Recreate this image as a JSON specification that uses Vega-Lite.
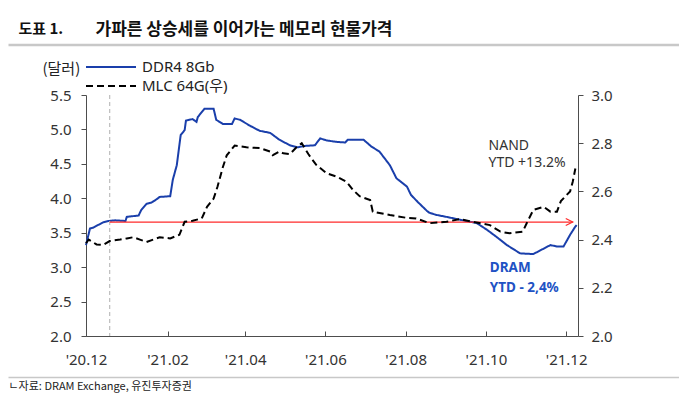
{
  "$schema": "https://vega.github.io/schema/vega-lite/v6.json",
  "width": 492,
  "height": 241,
  "autosize": {"type": "none"},
  "padding": {"left": 86, "top": 95, "right": 101, "bottom": 70},
  "background": "white",
  "config": {
    "view": {"stroke": null},
    "font": "Noto Sans",
    "axis": {
      "grid": false,
      "labelFont": "Noto Sans",
      "labelFontSize": 15,
      "labelColor": "#333333",
      "labelOverlap": false,
      "domainColor": "#4d4d4d",
      "tickColor": "#4d4d4d",
      "titleFont": "Noto Sans CJK KR",
      "titleFontWeight": "normal",
      "titleColor": "#222222"
    }
  },
  "datasets": {
    "prices": [
      {"date": "2020-12-01", "series": "DDR4 8Gb", "price": 3.32},
      {"date": "2020-12-04", "series": "DDR4 8Gb", "price": 3.56},
      {"date": "2020-12-06", "series": "DDR4 8Gb", "price": 3.57},
      {"date": "2020-12-10", "series": "DDR4 8Gb", "price": 3.61},
      {"date": "2020-12-14", "series": "DDR4 8Gb", "price": 3.65},
      {"date": "2020-12-18", "series": "DDR4 8Gb", "price": 3.67},
      {"date": "2020-12-23", "series": "DDR4 8Gb", "price": 3.68},
      {"date": "2020-12-31", "series": "DDR4 8Gb", "price": 3.67},
      {"date": "2021-01-01", "series": "DDR4 8Gb", "price": 3.73},
      {"date": "2021-01-10", "series": "DDR4 8Gb", "price": 3.75},
      {"date": "2021-01-12", "series": "DDR4 8Gb", "price": 3.83},
      {"date": "2021-01-16", "series": "DDR4 8Gb", "price": 3.92},
      {"date": "2021-01-20", "series": "DDR4 8Gb", "price": 3.94},
      {"date": "2021-01-24", "series": "DDR4 8Gb", "price": 3.99},
      {"date": "2021-01-26", "series": "DDR4 8Gb", "price": 4.02},
      {"date": "2021-02-03", "series": "DDR4 8Gb", "price": 4.03},
      {"date": "2021-02-05", "series": "DDR4 8Gb", "price": 4.27},
      {"date": "2021-02-08", "series": "DDR4 8Gb", "price": 4.48},
      {"date": "2021-02-11", "series": "DDR4 8Gb", "price": 4.92},
      {"date": "2021-02-14", "series": "DDR4 8Gb", "price": 4.99},
      {"date": "2021-02-15", "series": "DDR4 8Gb", "price": 5.13},
      {"date": "2021-02-20", "series": "DDR4 8Gb", "price": 5.15},
      {"date": "2021-02-23", "series": "DDR4 8Gb", "price": 5.11},
      {"date": "2021-02-24", "series": "DDR4 8Gb", "price": 5.18},
      {"date": "2021-03-01", "series": "DDR4 8Gb", "price": 5.30},
      {"date": "2021-03-08", "series": "DDR4 8Gb", "price": 5.30},
      {"date": "2021-03-10", "series": "DDR4 8Gb", "price": 5.14},
      {"date": "2021-03-15", "series": "DDR4 8Gb", "price": 5.08},
      {"date": "2021-03-22", "series": "DDR4 8Gb", "price": 5.08},
      {"date": "2021-03-24", "series": "DDR4 8Gb", "price": 5.16},
      {"date": "2021-03-28", "series": "DDR4 8Gb", "price": 5.14},
      {"date": "2021-04-05", "series": "DDR4 8Gb", "price": 5.05},
      {"date": "2021-04-12", "series": "DDR4 8Gb", "price": 4.98},
      {"date": "2021-04-20", "series": "DDR4 8Gb", "price": 4.95},
      {"date": "2021-04-27", "series": "DDR4 8Gb", "price": 4.85},
      {"date": "2021-04-30", "series": "DDR4 8Gb", "price": 4.82},
      {"date": "2021-05-05", "series": "DDR4 8Gb", "price": 4.77},
      {"date": "2021-05-11", "series": "DDR4 8Gb", "price": 4.74},
      {"date": "2021-05-16", "series": "DDR4 8Gb", "price": 4.76},
      {"date": "2021-05-24", "series": "DDR4 8Gb", "price": 4.77},
      {"date": "2021-05-28", "series": "DDR4 8Gb", "price": 4.87},
      {"date": "2021-06-02", "series": "DDR4 8Gb", "price": 4.84},
      {"date": "2021-06-09", "series": "DDR4 8Gb", "price": 4.82},
      {"date": "2021-06-16", "series": "DDR4 8Gb", "price": 4.81},
      {"date": "2021-06-18", "series": "DDR4 8Gb", "price": 4.85},
      {"date": "2021-06-30", "series": "DDR4 8Gb", "price": 4.85},
      {"date": "2021-07-06", "series": "DDR4 8Gb", "price": 4.75},
      {"date": "2021-07-12", "series": "DDR4 8Gb", "price": 4.68},
      {"date": "2021-07-20", "series": "DDR4 8Gb", "price": 4.48},
      {"date": "2021-07-25", "series": "DDR4 8Gb", "price": 4.29},
      {"date": "2021-08-02", "series": "DDR4 8Gb", "price": 4.17},
      {"date": "2021-08-05", "series": "DDR4 8Gb", "price": 4.05},
      {"date": "2021-08-10", "series": "DDR4 8Gb", "price": 3.95},
      {"date": "2021-08-17", "series": "DDR4 8Gb", "price": 3.82},
      {"date": "2021-08-19", "series": "DDR4 8Gb", "price": 3.79},
      {"date": "2021-08-24", "series": "DDR4 8Gb", "price": 3.76},
      {"date": "2021-09-01", "series": "DDR4 8Gb", "price": 3.73},
      {"date": "2021-09-11", "series": "DDR4 8Gb", "price": 3.69},
      {"date": "2021-09-24", "series": "DDR4 8Gb", "price": 3.64},
      {"date": "2021-10-02", "series": "DDR4 8Gb", "price": 3.54},
      {"date": "2021-10-09", "series": "DDR4 8Gb", "price": 3.44},
      {"date": "2021-10-17", "series": "DDR4 8Gb", "price": 3.32},
      {"date": "2021-10-27", "series": "DDR4 8Gb", "price": 3.20},
      {"date": "2021-11-06", "series": "DDR4 8Gb", "price": 3.19},
      {"date": "2021-11-14", "series": "DDR4 8Gb", "price": 3.27},
      {"date": "2021-11-19", "series": "DDR4 8Gb", "price": 3.32},
      {"date": "2021-11-24", "series": "DDR4 8Gb", "price": 3.30},
      {"date": "2021-11-29", "series": "DDR4 8Gb", "price": 3.30},
      {"date": "2021-12-04", "series": "DDR4 8Gb", "price": 3.47},
      {"date": "2021-12-08", "series": "DDR4 8Gb", "price": 3.59},
      {"date": "2021-12-09", "series": "DDR4 8Gb", "price": 3.61},
      {"date": "2020-12-01", "series": "MLC 64G(우)", "price": 2.385},
      {"date": "2020-12-03", "series": "MLC 64G(우)", "price": 2.40},
      {"date": "2020-12-09", "series": "MLC 64G(우)", "price": 2.38},
      {"date": "2020-12-14", "series": "MLC 64G(우)", "price": 2.378},
      {"date": "2020-12-19", "series": "MLC 64G(우)", "price": 2.394},
      {"date": "2020-12-27", "series": "MLC 64G(우)", "price": 2.40},
      {"date": "2021-01-01", "series": "MLC 64G(우)", "price": 2.405},
      {"date": "2021-01-06", "series": "MLC 64G(우)", "price": 2.41},
      {"date": "2021-01-11", "series": "MLC 64G(우)", "price": 2.40},
      {"date": "2021-01-16", "series": "MLC 64G(우)", "price": 2.39},
      {"date": "2021-01-21", "series": "MLC 64G(우)", "price": 2.40},
      {"date": "2021-01-26", "series": "MLC 64G(우)", "price": 2.41},
      {"date": "2021-02-03", "series": "MLC 64G(우)", "price": 2.405},
      {"date": "2021-02-10", "series": "MLC 64G(우)", "price": 2.42},
      {"date": "2021-02-14", "series": "MLC 64G(우)", "price": 2.474},
      {"date": "2021-02-20", "series": "MLC 64G(우)", "price": 2.478},
      {"date": "2021-02-27", "series": "MLC 64G(우)", "price": 2.488},
      {"date": "2021-03-03", "series": "MLC 64G(우)", "price": 2.536},
      {"date": "2021-03-08", "series": "MLC 64G(우)", "price": 2.57},
      {"date": "2021-03-11", "series": "MLC 64G(우)", "price": 2.62},
      {"date": "2021-03-15", "series": "MLC 64G(우)", "price": 2.70},
      {"date": "2021-03-18", "series": "MLC 64G(우)", "price": 2.75},
      {"date": "2021-03-24", "series": "MLC 64G(우)", "price": 2.79},
      {"date": "2021-04-02", "series": "MLC 64G(우)", "price": 2.783},
      {"date": "2021-04-12", "series": "MLC 64G(우)", "price": 2.78},
      {"date": "2021-04-20", "series": "MLC 64G(우)", "price": 2.765},
      {"date": "2021-04-22", "series": "MLC 64G(우)", "price": 2.75},
      {"date": "2021-04-27", "series": "MLC 64G(우)", "price": 2.765},
      {"date": "2021-04-30", "series": "MLC 64G(우)", "price": 2.758},
      {"date": "2021-05-05", "series": "MLC 64G(우)", "price": 2.755},
      {"date": "2021-05-10", "series": "MLC 64G(우)", "price": 2.783},
      {"date": "2021-05-14", "series": "MLC 64G(우)", "price": 2.80},
      {"date": "2021-05-19", "series": "MLC 64G(우)", "price": 2.755},
      {"date": "2021-05-25", "series": "MLC 64G(우)", "price": 2.71},
      {"date": "2021-06-02", "series": "MLC 64G(우)", "price": 2.675},
      {"date": "2021-06-10", "series": "MLC 64G(우)", "price": 2.66},
      {"date": "2021-06-17", "series": "MLC 64G(우)", "price": 2.64},
      {"date": "2021-06-22", "series": "MLC 64G(우)", "price": 2.606},
      {"date": "2021-06-27", "series": "MLC 64G(우)", "price": 2.58},
      {"date": "2021-07-05", "series": "MLC 64G(우)", "price": 2.564},
      {"date": "2021-07-07", "series": "MLC 64G(우)", "price": 2.516},
      {"date": "2021-07-20", "series": "MLC 64G(우)", "price": 2.502},
      {"date": "2021-08-02", "series": "MLC 64G(우)", "price": 2.49},
      {"date": "2021-08-09", "series": "MLC 64G(우)", "price": 2.488},
      {"date": "2021-08-19", "series": "MLC 64G(우)", "price": 2.468},
      {"date": "2021-09-01", "series": "MLC 64G(우)", "price": 2.474},
      {"date": "2021-09-11", "series": "MLC 64G(우)", "price": 2.485},
      {"date": "2021-09-21", "series": "MLC 64G(우)", "price": 2.474},
      {"date": "2021-10-04", "series": "MLC 64G(우)", "price": 2.46},
      {"date": "2021-10-12", "series": "MLC 64G(우)", "price": 2.433},
      {"date": "2021-10-19", "series": "MLC 64G(우)", "price": 2.426},
      {"date": "2021-10-29", "series": "MLC 64G(우)", "price": 2.433},
      {"date": "2021-11-01", "series": "MLC 64G(우)", "price": 2.468},
      {"date": "2021-11-06", "series": "MLC 64G(우)", "price": 2.523},
      {"date": "2021-11-14", "series": "MLC 64G(우)", "price": 2.536},
      {"date": "2021-11-19", "series": "MLC 64G(우)", "price": 2.516},
      {"date": "2021-11-24", "series": "MLC 64G(우)", "price": 2.516},
      {"date": "2021-11-27", "series": "MLC 64G(우)", "price": 2.56},
      {"date": "2021-12-04", "series": "MLC 64G(우)", "price": 2.60},
      {"date": "2021-12-06", "series": "MLC 64G(우)", "price": 2.64},
      {"date": "2021-12-08", "series": "MLC 64G(우)", "price": 2.695}
    ],
    "refs": [
      {"start": "2020-12-19", "end": "2021-12-06", "level": 3.655}
    ],
    "nand": [
      {"date": "2021-10-03", "value": 4.76, "text": "NAND"},
      {"date": "2021-10-03", "value": 4.51, "text": "YTD +13.2%"}
    ],
    "dram": [
      {"date": "2021-10-04", "value": 2.99, "text": "DRAM"},
      {"date": "2021-10-04", "value": 2.70, "text": "YTD - 2,4%"}
    ]
  },
  "layer": [
    {
      "layer": [
        {
          "data": {"name": "prices"},
          "transform": [{"filter": "datum.series === 'DDR4 8Gb'"}],
          "mark": {"type": "line", "strokeWidth": 2},
          "encoding": {
            "x": {
              "field": "date", "type": "temporal",
              "scale": {"domain": [{"year": 2020, "month": 12, "date": 1}, {"year": 2021, "month": 12, "date": 10}]},
              "axis": {
                "orient": "bottom",
                "values": [
                  {"year": 2020, "month": 12, "date": 1},
                  {"year": 2021, "month": 2, "date": 1},
                  {"year": 2021, "month": 4, "date": 1},
                  {"year": 2021, "month": 6, "date": 1},
                  {"year": 2021, "month": 8, "date": 1},
                  {"year": 2021, "month": 10, "date": 1},
                  {"year": 2021, "month": 12, "date": 1}
                ],
                "format": "'%y.%m",
                "tickSize": -5,
                "labelPadding": 21,
                "labelFlush": false,
                "labelOverlap": false,
                "title": null
              }
            },
            "y": {
              "field": "price", "type": "quantitative",
              "scale": {"domain": [2, 5.5], "nice": false, "zero": false},
              "axis": {
                "orient": "left",
                "values": [2, 2.5, 3, 3.5, 4, 4.5, 5, 5.5],
                "tickCount": 8,
                "format": ".1f",
                "tickSize": 5,
                "labelPadding": 10,
                "labelOverlap": false,
                "title": "(달러)",
                "titleAngle": 0,
                "titleAlign": "left",
                "titleBaseline": "middle",
                "titleX": -44,
                "titleY": -27,
                "titleFontSize": 15
              }
            },
            "color": {
              "field": "series", "type": "nominal",
              "scale": {"domain": ["DDR4 8Gb", "MLC 64G(우)"], "range": ["#1a3fab", "#000000"]},
              "legend": {
                "orient": "none", "legendX": -1, "legendY": -36, "title": null,
                "direction": "vertical", "symbolType": "stroke", "symbolSize": 2500,
                "symbolStrokeWidth": 2, "clipHeight": 16, "rowPadding": 3,
                "labelFontSize": 15, "labelFont": "Noto Sans, Noto Sans CJK KR",
                "labelColor": "#222222", "labelOffset": 5, "padding": 0
              }
            },
            "strokeDash": {
              "field": "series", "type": "nominal",
              "scale": {"domain": ["DDR4 8Gb", "MLC 64G(우)"], "range": [[1, 0], [7, 4]]},
              "legend": {
                "orient": "none", "legendX": -1, "legendY": -36, "title": null,
                "direction": "vertical", "symbolType": "stroke", "symbolSize": 2500,
                "symbolStrokeWidth": 2, "clipHeight": 16, "rowPadding": 3,
                "labelFontSize": 15, "labelFont": "Noto Sans, Noto Sans CJK KR",
                "labelColor": "#222222", "labelOffset": 5, "padding": 0
              }
            }
          }
        },
        {
          "data": {"name": "refs"},
          "mark": {"type": "rule", "color": "#bdbdbd", "strokeDash": [4, 3], "strokeWidth": 1.2},
          "encoding": {
            "x": {"field": "start", "type": "temporal",
              "scale": {"domain": [{"year": 2020, "month": 12, "date": 1}, {"year": 2021, "month": 12, "date": 10}]}}
          }
        },
        {
          "data": {"name": "refs"},
          "mark": {"type": "rule", "color": "#ff2a2a", "strokeWidth": 1.3},
          "encoding": {
            "x": {"field": "start", "type": "temporal",
              "scale": {"domain": [{"year": 2020, "month": 12, "date": 1}, {"year": 2021, "month": 12, "date": 10}]}},
            "x2": {"field": "end"},
            "y": {"field": "level", "type": "quantitative", "scale": {"domain": [2, 5.5], "nice": false, "zero": false},
              "axis": {"orient": "left", "values": [2, 2.5, 3, 3.5, 4, 4.5, 5, 5.5], "tickCount": 8, "format": ".1f", "tickSize": 5, "labelPadding": 10, "labelOverlap": false, "title": "(달러)", "titleAngle": 0, "titleAlign": "left", "titleBaseline": "middle", "titleX": -44, "titleY": -27, "titleFontSize": 15}}
          }
        },
        {
          "data": {"name": "refs"},
          "mark": {"type": "point", "shape": "M-1,-0.5L0,0L-1,0.5", "size": 196, "filled": false, "color": "#ff2a2a", "strokeWidth": 1.2, "opacity": 1},
          "encoding": {
            "x": {"field": "end", "type": "temporal",
              "scale": {"domain": [{"year": 2020, "month": 12, "date": 1}, {"year": 2021, "month": 12, "date": 10}]}},
            "y": {"field": "level", "type": "quantitative", "scale": {"domain": [2, 5.5], "nice": false, "zero": false},
              "axis": {"orient": "left", "values": [2, 2.5, 3, 3.5, 4, 4.5, 5, 5.5], "tickCount": 8, "format": ".1f", "tickSize": 5, "labelPadding": 10, "labelOverlap": false, "title": "(달러)", "titleAngle": 0, "titleAlign": "left", "titleBaseline": "middle", "titleX": -44, "titleY": -27, "titleFontSize": 15}}
          }
        },
        {
          "data": {"name": "nand"},
          "mark": {"type": "text", "align": "left", "baseline": "middle", "font": "Noto Sans", "fontSize": 14, "color": "#333333"},
          "encoding": {
            "x": {"field": "date", "type": "temporal",
              "scale": {"domain": [{"year": 2020, "month": 12, "date": 1}, {"year": 2021, "month": 12, "date": 10}]}},
            "y": {"field": "value", "type": "quantitative", "scale": {"domain": [2, 5.5], "nice": false, "zero": false},
              "axis": {"orient": "left", "values": [2, 2.5, 3, 3.5, 4, 4.5, 5, 5.5], "tickCount": 8, "format": ".1f", "tickSize": 5, "labelPadding": 10, "labelOverlap": false, "title": "(달러)", "titleAngle": 0, "titleAlign": "left", "titleBaseline": "middle", "titleX": -44, "titleY": -27, "titleFontSize": 15}},
            "text": {"field": "text"}
          }
        },
        {
          "data": {"name": "dram"},
          "mark": {"type": "text", "align": "left", "baseline": "middle", "font": "Noto Sans", "fontSize": 13.5, "fontWeight": "bold", "color": "#2152c4"},
          "encoding": {
            "x": {"field": "date", "type": "temporal",
              "scale": {"domain": [{"year": 2020, "month": 12, "date": 1}, {"year": 2021, "month": 12, "date": 10}]}},
            "y": {"field": "value", "type": "quantitative", "scale": {"domain": [2, 5.5], "nice": false, "zero": false},
              "axis": {"orient": "left", "values": [2, 2.5, 3, 3.5, 4, 4.5, 5, 5.5], "tickCount": 8, "format": ".1f", "tickSize": 5, "labelPadding": 10, "labelOverlap": false, "title": "(달러)", "titleAngle": 0, "titleAlign": "left", "titleBaseline": "middle", "titleX": -44, "titleY": -27, "titleFontSize": 15}},
            "text": {"field": "text"}
          }
        }
      ]
    },
    {
      "data": {"name": "prices"},
      "transform": [{"filter": "datum.series === 'MLC 64G(우)'"}],
      "mark": {"type": "line", "strokeWidth": 2},
      "encoding": {
        "x": {
          "field": "date", "type": "temporal",
          "scale": {"domain": [{"year": 2020, "month": 12, "date": 1}, {"year": 2021, "month": 12, "date": 10}]},
          "axis": {
            "orient": "top", "offset": 50, "domain": false, "ticks": false, "labels": false,
            "title": "가파른 상승세를 이어가는 메모리 현물가격",
            "titleX": 9, "titleY": -16, "titleAlign": "left", "titleBaseline": "middle", "titleAngle": 0,
            "titleFontSize": 17, "titleFontWeight": "bold", "titleFont": "Noto Sans CJK KR", "titleColor": "#111111"
          }
        },
        "y": {
          "field": "price", "type": "quantitative",
          "scale": {"domain": [2, 3], "nice": false, "zero": false},
          "axis": {
            "orient": "right",
            "values": [2, 2.2, 2.4, 2.6, 2.8, 3],
            "format": ".1f",
            "tickSize": 5,
            "labelPadding": 8,
            "labelOverlap": false,
            "title": null
          }
        },
        "color": {
          "field": "series", "type": "nominal",
          "scale": {"domain": ["DDR4 8Gb", "MLC 64G(우)"], "range": ["#1a3fab", "#000000"]}
        },
        "strokeDash": {
          "field": "series", "type": "nominal",
          "scale": {"domain": ["DDR4 8Gb", "MLC 64G(우)"], "range": [[1, 0], [7, 4]]}
        }
      }
    },
    {
      "data": {"name": "refs"},
      "mark": {"type": "rule", "opacity": 0},
      "encoding": {
        "x": {
          "field": "start", "type": "temporal",
          "scale": {"domain": [{"year": 2020, "month": 12, "date": 1}, {"year": 2021, "month": 12, "date": 10}], "range": [-78, 593]},
          "axis": {
            "orient": "top", "offset": 50.5, "domainColor": "#c8c8c8", "domainWidth": 2.5,
            "ticks": false, "labels": false,
            "title": "도표 1.",
            "titleX": -68, "titleY": -16, "titleAlign": "left", "titleBaseline": "middle", "titleAngle": 0,
            "titleFontSize": 15, "titleFontWeight": "bold", "titleFont": "Noto Sans CJK KR", "titleColor": "#111111"
          }
        }
      }
    },
    {
      "data": {"name": "refs"},
      "mark": {"type": "rule", "opacity": 0},
      "encoding": {
        "x": {
          "field": "start", "type": "temporal",
          "scale": {"domain": [{"year": 2020, "month": 12, "date": 1}, {"year": 2021, "month": 12, "date": 10}], "range": [-78, 593]},
          "axis": {
            "orient": "bottom", "offset": 41, "domainColor": "#c8c8c8", "domainWidth": 1.5,
            "ticks": false, "labels": false,
            "title": "ㄴ자료: DRAM Exchange, 유진투자증권",
            "titleX": -78, "titleY": 9, "titleAlign": "left", "titleBaseline": "middle", "titleAngle": 0,
            "titleFontSize": 11, "titleFont": "Liberation Sans Narrow, Noto Sans CJK KR", "titleColor": "#222222"
          }
        }
      }
    }
  ],
  "resolve": {"scale": {"x": "independent", "y": "independent"}}
}
